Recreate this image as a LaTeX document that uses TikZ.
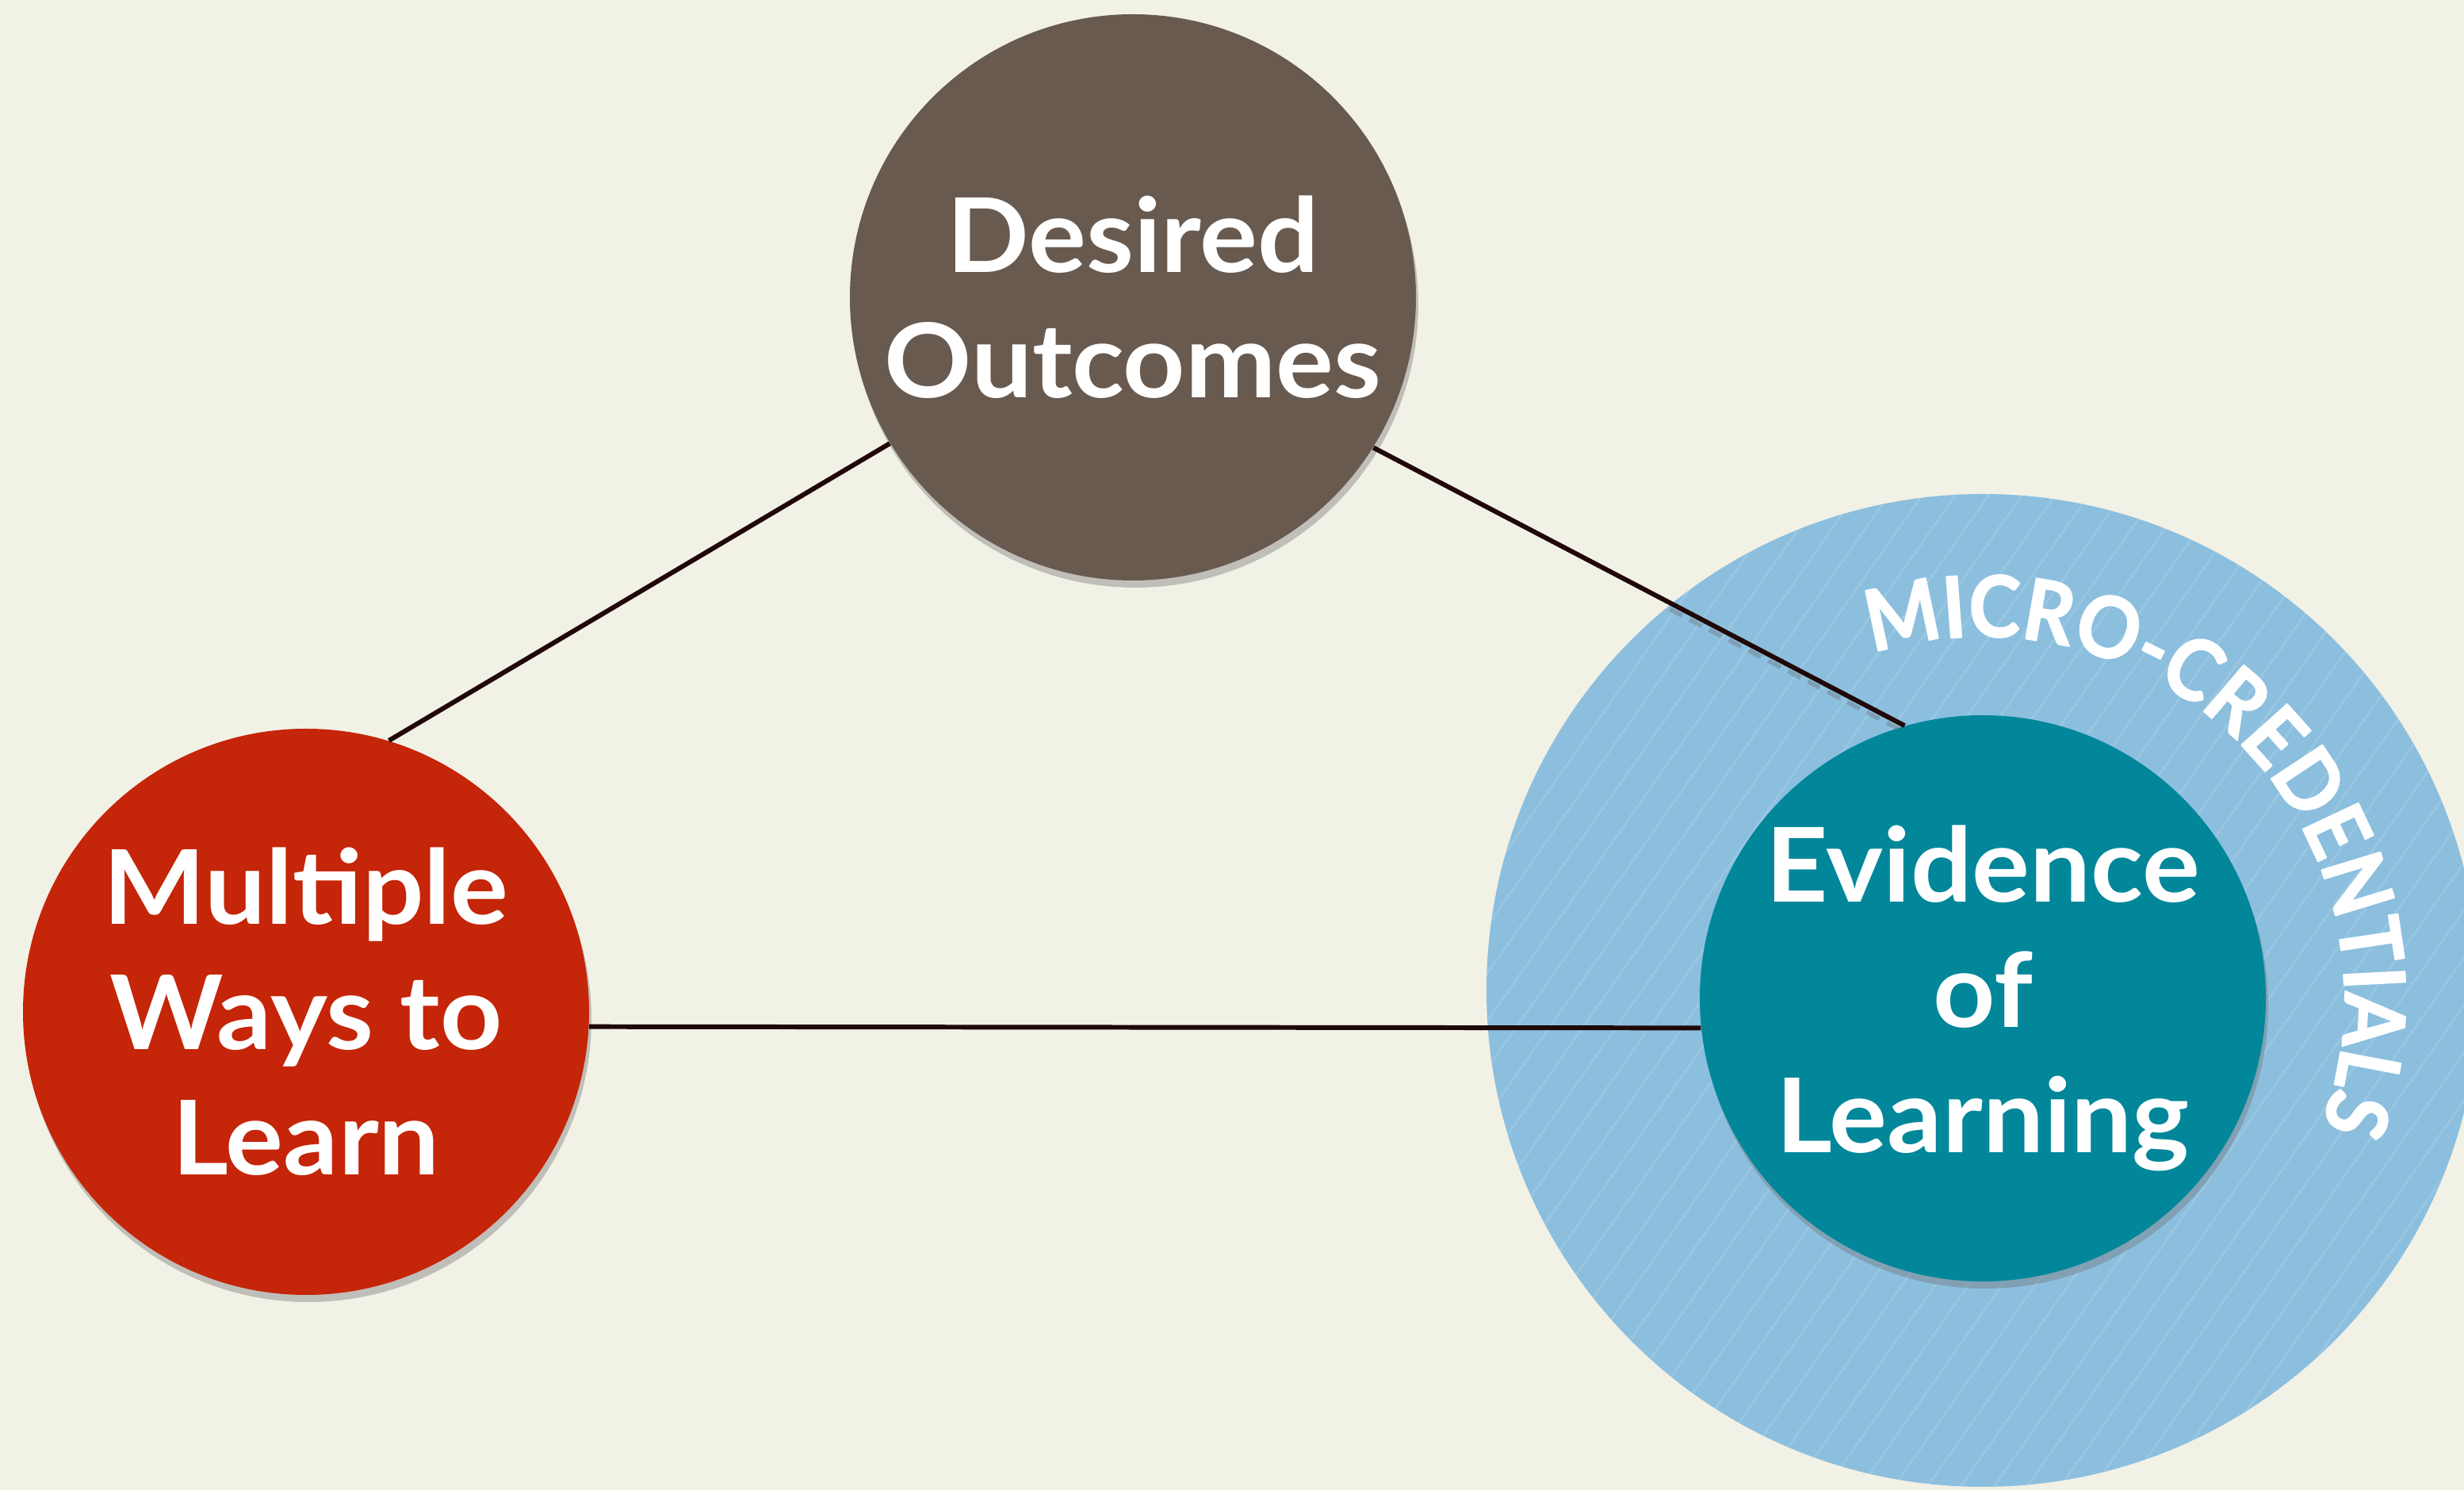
\documentclass[tikz,border=0pt]{standalone}
\usepackage{fontspec}
\setmainfont[FakeStretch=1.05]{Lato}
\newfontfamily\arcfont[FakeStretch=0.92,FakeBold=1.6]{Lato}
\usetikzlibrary{calc,shadows,decorations.text}
\definecolor{bgcream}{HTML}{F2F1E6}
\definecolor{outbrown}{HTML}{695A50}
\definecolor{multired}{HTML}{C52508}
\definecolor{evidteal}{HTML}{02879A}
\definecolor{microblue}{HTML}{8CBFDE}
\definecolor{linkdark}{HTML}{200808}
\tikzset{
  bubble/.style={circle,minimum size=7.14cm,inner sep=0pt,align=center,text=white,
    font=\fontsize{37}{45}\selectfont\bfseries,
    drop shadow={shadow xshift=0.03cm,shadow yshift=-0.09cm,fill=black!55,opacity=0.4}},
  link/.style={line width=1.7pt,draw=linkdark,line cap=butt}
}

\begin{document}
\begin{tikzpicture}[line join=round, line cap=round]
\fill[bgcream] (0,0) rectangle (31.08,18.79);
\useasboundingbox (0,0) rectangle (31.08,18.79);
% micro-credentials halo
\coordinate (halo) at (25.01,6.30);
\fill[microblue] (halo) circle (6.26);
\begin{scope}
\clip (halo) circle (6.26);
\foreach \x in {10,10.42,...,32}{\draw[white,opacity=0.12,line width=0.8pt] (\x,0) -- ++(55:24);}
\end{scope}
\node[bubble,fill=outbrown] (desired) at (14.29,15.04) {Desired\\Outcomes};
\node[bubble,fill=multired] (multiple) at (3.86,6.03) {Multiple\\Ways to\\Learn};
\node[bubble,fill=evidteal] (evidence) at (25.01,6.20) {Evidence\\of\\Learning};
% shadow of the link over the halo
\begin{scope}
\clip (halo) circle (6.26);
\draw[black!60,opacity=0.35,line width=1.6pt,dash pattern=on 5pt off 3pt,line cap=butt]
  ($(desired.-32)+(0,-0.08)$) -- ($(evidence.106)+(0,-0.08)$);
\end{scope}
\draw[link] (multiple.73) -- (desired.211);
\draw[link] (desired.-32) -- (evidence.106);
\draw[link] (multiple.-3) -- (evidence.186);
\path[decoration={text along path,text align=center,
  text={|\arcfont\fontsize{30.5}{30.5}\selectfont\bfseries\color{white}|MICRO-CREDENTIALS}},decorate]
  ($(evidence.center)+(107:4.56)$) arc[start angle=107,end angle=-20,radius=4.56];
\end{tikzpicture}
\end{document}
